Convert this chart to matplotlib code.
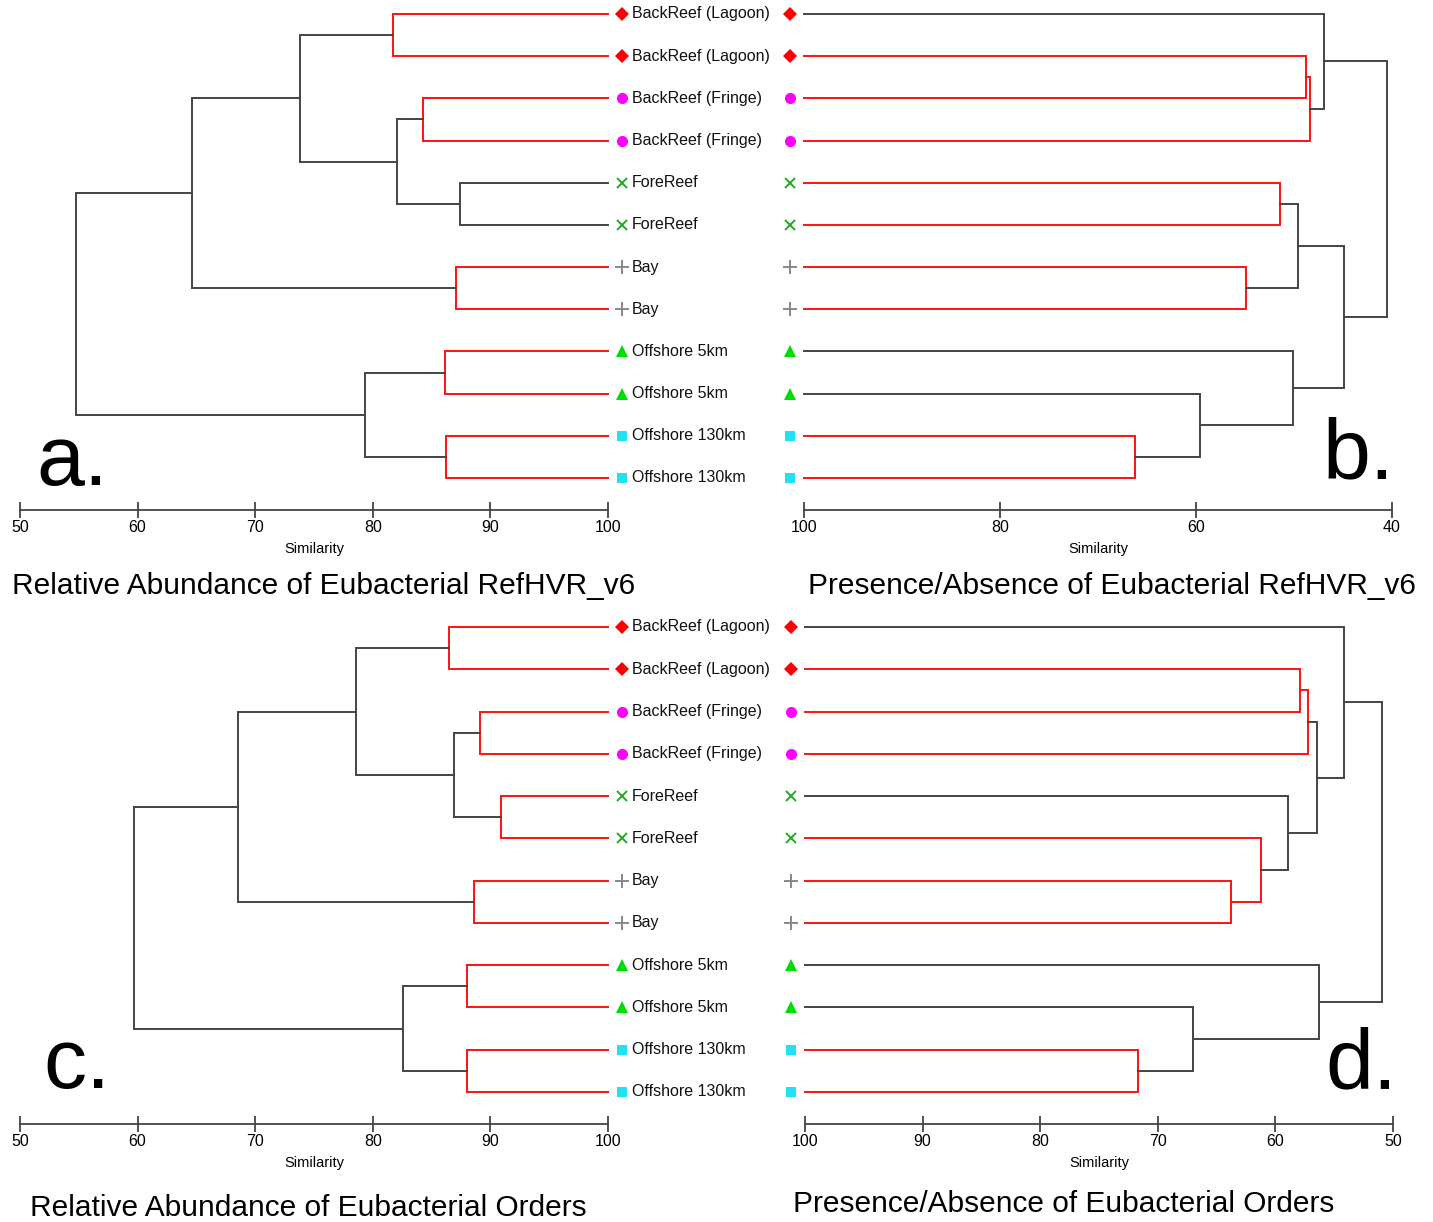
import matplotlib
matplotlib.use('Agg')
import matplotlib.pyplot as plt
from matplotlib.transforms import offset_copy

plt.rcParams['font.family'] = ['Liberation Sans', 'DejaVu Sans']

W, H, DPI = 1433, 1222, 100
RED = '#ff1010'
DARK = '#444444'

leaf_names = ['BackReef (Lagoon)', 'BackReef (Lagoon)', 'BackReef (Fringe)', 'BackReef (Fringe)',
              'ForeReef', 'ForeReef', 'Bay', 'Bay', 'Offshore 5km', 'Offshore 5km',
              'Offshore 130km', 'Offshore 130km']
leaf_markers = ['D', 'D', 'o', 'o', 'x', 'x', '+', '+', '^', '^', 's', 's']
leaf_colors = ['#ff0000', '#ff0000', '#ff00ff', '#ff00ff', '#22aa22', '#22aa22',
               '#888888', '#888888', '#00dd00', '#00dd00', '#22e0f5', '#22e0f5']
marker_sizes = {'D': 7, 'o': 8, 'x': 7, '+': 10, '^': 8.5, 's': 7.5}

# merges: (child 1, child 2, similarity, red = not separated)
# leaves are 0..11, merge k gets id 12 + k
merges_a = [(0, 1, 81.7, True), (2, 3, 84.3, True), (4, 5, 87.4, False),
            (13, 14, 82.1, False), (12, 15, 73.8, False), (6, 7, 87.1, True),
            (16, 17, 64.6, False), (8, 9, 86.1, True), (10, 11, 86.2, True),
            (19, 20, 79.3, False), (18, 21, 54.8, False)]
merges_b = [(1, 2, 48.8, True), (12, 3, 48.4, True), (0, 13, 46.9, False),
            (4, 5, 51.4, True), (6, 7, 54.9, True), (15, 16, 49.6, False),
            (10, 11, 66.2, True), (9, 18, 59.6, False), (8, 19, 50.1, False),
            (17, 20, 44.9, False), (14, 21, 40.5, False)]
merges_c = [(0, 1, 86.5, True), (2, 3, 89.1, True), (4, 5, 90.9, True),
            (13, 14, 86.9, False), (12, 15, 78.6, False), (6, 7, 88.6, True),
            (16, 17, 68.5, False), (8, 9, 88.0, True), (10, 11, 88.0, True),
            (19, 20, 82.6, False), (18, 21, 59.7, False)]
merges_d = [(1, 2, 57.9, True), (12, 3, 57.2, True), (6, 7, 63.8, True),
            (5, 14, 61.2, True), (4, 15, 58.9, False), (13, 16, 56.5, False),
            (0, 17, 54.2, False), (10, 11, 71.7, True), (9, 19, 67.0, False),
            (8, 20, 56.3, False), (18, 21, 50.9, False)]

ticks_a = [50, 60, 70, 80, 90, 100]
ticks_b = [100, 80, 60, 40]
ticks_c = [50, 60, 70, 80, 90, 100]
ticks_d = [100, 90, 80, 70, 60, 50]

titles = ['Relative Abundance of Eubacterial RefHVR_v6', 'Presence/Absence of Eubacterial RefHVR_v6',
          'Relative Abundance of Eubacterial Orders', 'Presence/Absence of Eubacterial Orders']

fig = plt.figure(figsize=(W / DPI, H / DPI), dpi=DPI)


def make_axes(x0, x1, ytop, ybot, xlim, ticks, axis_y):
    pad = 0.35
    step = (ybot - ytop) / 11
    top = ytop - pad * step
    bot = ybot + pad * step
    ax = fig.add_axes([x0 / W, 1 - bot / H, (x1 - x0) / W, (bot - top) / H])
    ax.set_xlim(*xlim)
    ax.set_ylim(11 + pad, -pad)
    ax.patch.set_visible(False)
    for s in ['top', 'left', 'right']:
        ax.spines[s].set_visible(False)
    ax.spines['bottom'].set_position(('outward', (axis_y - bot) * 72 / DPI))
    ax.spines['bottom'].set_color(DARK)
    ax.spines['bottom'].set_linewidth(1.3)
    ax.set_yticks([])
    ax.set_xticks(ticks)
    ax.tick_params(axis='x', direction='inout', length=11, width=1.3,
                   color=DARK, labelsize=11.5, pad=2)
    ax.set_xlabel('Similarity', fontsize=10.5, labelpad=5)
    return ax


def draw_tree(ax, merges):
    pos = {i: (100, i) for i in range(12)}
    for k, (c1, c2, s, red) in enumerate(merges):
        x1, y1 = pos[c1]
        x2, y2 = pos[c2]
        ax.plot([x1, s, s, x2], [y1, y1, y2, y2], color=RED if red else DARK,
                lw=1.4, clip_on=False, solid_joinstyle='miter')
        pos[12 + k] = (s, (y1 + y2) / 2)


def draw_leaves(ax, dx, labels):
    tr = offset_copy(ax.transData, fig=fig, x=dx, y=0, units='dots')
    for i in range(12):
        m = leaf_markers[i]
        ax.plot([100], [i], marker=m, ms=marker_sizes[m], color=leaf_colors[i],
                mew=1.4 if m in 'x+' else 0, ls='none', transform=tr, clip_on=False)
        if labels:
            ax.text(100, i, leaf_names[i], transform=offset_copy(ax.transData, fig=fig, x=24, y=0, units='dots'),
                    ha='left', va='center', fontsize=11.5, color='#111111', clip_on=False)


ax_a = make_axes(20, 608, 14, 478, (50, 100), ticks_a, 510)
draw_tree(ax_a, merges_a)
draw_leaves(ax_a, 14, True)

ax_b = make_axes(804, 1392, 14, 478, (100, 40), ticks_b, 510)
draw_tree(ax_b, merges_b)
draw_leaves(ax_b, -14, False)

ax_c = make_axes(20, 608, 627, 1092, (50, 100), ticks_c, 1124)
draw_tree(ax_c, merges_c)
draw_leaves(ax_c, 14, True)

ax_d = make_axes(805, 1393, 627, 1092, (100, 50), ticks_d, 1124)
draw_tree(ax_d, merges_d)
draw_leaves(ax_d, -14, False)

fig.text(12 / W, 1 - 594 / H, titles[0], fontsize=21.5, va='baseline')
fig.text(808 / W, 1 - 594 / H, titles[1], fontsize=21.5, va='baseline')
fig.text(30 / W, 1 - 1216 / H, titles[2], fontsize=21.5, va='baseline')
fig.text(793 / W, 1 - 1212 / H, titles[3], fontsize=21.5, va='baseline')

fig.text(36 / W, 1 - 485 / H, 'a.', fontsize=62, va='baseline')
fig.text(1322 / W, 1 - 478 / H, 'b.', fontsize=62, va='baseline')
fig.text(43 / W, 1 - 1088 / H, 'c.', fontsize=62, va='baseline')
fig.text(1325 / W, 1 - 1088 / H, 'd.', fontsize=62, va='baseline')

fig.savefig('out.png', dpi=DPI)
